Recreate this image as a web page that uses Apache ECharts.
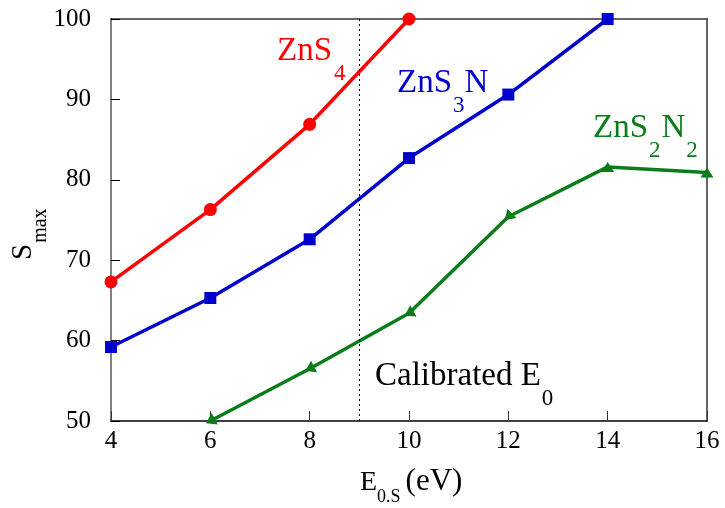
<!DOCTYPE html>
<html>
<head>
<meta charset="utf-8">
<script src="https://cdn.jsdelivr.net/npm/echarts@6/dist/echarts.min.js"></script>
<style>
  html, body { margin: 0; padding: 0; background: #fff; }
  #chart { width: 725px; height: 508px; }
</style>
</head>
<body>
<div id="chart"></div>
<script>
// Calibration energy E_0.S (eV) on the x axis
const energyZnS4   = [4, 6, 8, 10];
const energyZnS3N  = [4, 6, 8, 10, 12, 14];
const energyZnS2N2 = [6, 8, 10, 12, 14, 16];

// S_max for each composition
const smaxZnS4   = [67.3, 76.3, 86.9, 100];
const smaxZnS3N  = [59.2, 65.3, 72.6, 82.7, 90.6, 100];
const smaxZnS2N2 = [50, 56.5, 63.4, 75.4, 81.6, 80.9];

// Calibrated E_0 marker
const calibratedE0 = 9;

// Axis ranges
const xRange = { min: 4, max: 16, step: 2 };
const yRange = { min: 50, max: 100, step: 10 };

const FONT = 'Liberation Serif, DejaVu Serif, Times, serif';
const RED = '#ff0000', BLUE = '#0000cc', GREEN = '#0a7d1a';

const chart = echarts.init(document.getElementById('chart'), null, { renderer: 'canvas' });

const pairs = (xs, ys) => xs.map((x, i) => [x, ys[i]]);

// text width helper for chaining subscript pieces
const mctx = document.createElement('canvas').getContext('2d');
function textWidth(t, fs) {
  mctx.font = fs + 'px ' + FONT;
  return mctx.measureText(t).width;
}

// A label made of normal and subscript pieces, anchored at its left baseline
function subLabel(x, baseline, parts, color, rotation) {
  let cx = 0;
  const children = parts.map(p => {
    const fs = p.fs;
    const el = {
      type: 'text',
      x: cx,
      y: (p.dy || 0) - 0.34 * fs,
      style: { text: p.t, fill: color, fontSize: fs, fontFamily: FONT, align: 'left', verticalAlign: 'middle' }
    };
    cx += textWidth(p.t, fs) + (p.gap || 0);
    return el;
  });
  return { type: 'group', x: x, y: baseline, rotation: rotation || 0, silent: true, children: children };
}

const BIG = 33, SUB = 23, SUBDY = 19;

const graphics = [
  subLabel(277, 63, [{ t: 'ZnS', fs: BIG, gap: 2 }, { t: '4', fs: SUB, dy: SUBDY }], RED),
  subLabel(397, 95, [{ t: 'ZnS', fs: BIG, gap: 1 }, { t: '3', fs: SUB, dy: SUBDY }, { t: 'N', fs: BIG }], BLUE),
  subLabel(593, 140, [{ t: 'ZnS', fs: BIG, gap: 1 }, { t: '2', fs: SUB, dy: SUBDY, gap: 1 }, { t: 'N', fs: BIG, gap: 1 }, { t: '2', fs: SUB, dy: SUBDY }], GREEN),
  subLabel(375, 388, [{ t: 'Calibrated E', fs: BIG, gap: 1 }, { t: '0', fs: SUB, dy: SUBDY }], '#000'),
  // axis titles
  subLabel(360, 492, [{ t: 'E', fs: 28 }, { t: '0.S', fs: 18, dy: 11, gap: 5 }, { t: '(eV)', fs: 31 }], '#000'),
  subLabel(33, 260, [{ t: 'S', fs: 29, gap: 1 }, { t: 'max', fs: 20, dy: 15 }], '#000', Math.PI / 2)
];

const valueAxisCommon = {
  type: 'value',
  splitLine: { show: false }
};

const option = {
  animation: false,
  backgroundColor: '#fff',
  textStyle: { fontFamily: FONT },
  grid: { left: 111, right: 18, top: 19, bottom: 87, containLabel: false },
  xAxis: [
    Object.assign({}, valueAxisCommon, {
      min: xRange.min, max: xRange.max, interval: xRange.step,
      axisLine: { show: true, onZero: false, lineStyle: { color: '#000', width: 1.5 } },
      axisTick: { show: true, inside: true, length: 10, lineStyle: { color: '#333', width: 1 } },
      axisLabel: { color: '#000', fontFamily: FONT, fontSize: 25, margin: 8 }
    }),
    Object.assign({}, valueAxisCommon, {
      position: 'top', min: xRange.min, max: xRange.max,
      axisLine: { show: true, onZero: false, lineStyle: { color: '#333', width: 1.5 } },
      axisTick: { show: false }, axisLabel: { show: false }
    })
  ],
  yAxis: [
    Object.assign({}, valueAxisCommon, {
      min: yRange.min, max: yRange.max, interval: yRange.step,
      axisLine: { show: true, onZero: false, lineStyle: { color: '#808080', width: 2 } },
      axisTick: { show: true, inside: true, length: 9, lineStyle: { color: '#000', width: 1 } },
      axisLabel: { color: '#000', fontFamily: FONT, fontSize: 25, margin: 20 }
    }),
    Object.assign({}, valueAxisCommon, {
      position: 'right', min: yRange.min, max: yRange.max,
      axisLine: { show: true, onZero: false, lineStyle: { color: '#333', width: 1.5 } },
      axisTick: { show: false }, axisLabel: { show: false }
    })
  ],
  series: [
    {
      name: 'ZnS4', type: 'line', clip: false, z: 4,
      data: pairs(energyZnS4, smaxZnS4),
      symbol: 'circle', symbolSize: 13,
      lineStyle: { color: RED, width: 3.5 }, itemStyle: { color: RED },
      markLine: {
        silent: true, symbol: 'none', label: { show: false },
        lineStyle: { color: '#000', width: 1, type: [2, 3] },
        data: [{ xAxis: calibratedE0 }]
      }
    },
    {
      name: 'ZnS3N', type: 'line', clip: false, z: 3,
      data: pairs(energyZnS3N, smaxZnS3N),
      symbol: 'rect', symbolSize: 12,
      lineStyle: { color: BLUE, width: 3.5 }, itemStyle: { color: BLUE }
    },
    {
      name: 'ZnS2N2', type: 'line', clip: false, z: 2,
      data: pairs(energyZnS2N2, smaxZnS2N2),
      symbol: 'triangle', symbolSize: [13, 10],
      lineStyle: { color: GREEN, width: 3.5 }, itemStyle: { color: GREEN }
    }
  ],
  graphic: graphics
};

chart.setOption(option);

// The lower green markers point back along the line toward the previous point
const greenPts = pairs(energyZnS2N2, smaxZnS2N2);
const px = greenPts.map(p => chart.convertToPixel({ gridIndex: 0 }, p));
const greenData = greenPts.map((p, i) => {
  if (i >= 4) return { value: p, symbolRotate: 0 };
  let vx, vy;
  if (i === 0) { vx = px[0][0] - px[1][0]; vy = px[0][1] - px[1][1]; }
  else { vx = px[i - 1][0] - px[i][0]; vy = px[i - 1][1] - px[i][1]; }
  const ang = Math.atan2(-vy, vx) * 180 / Math.PI;
  return { value: p, symbolRotate: ang - 90 };
});
chart.setOption({ series: [{}, {}, { data: greenData }] });
</script>
</body>
</html>
